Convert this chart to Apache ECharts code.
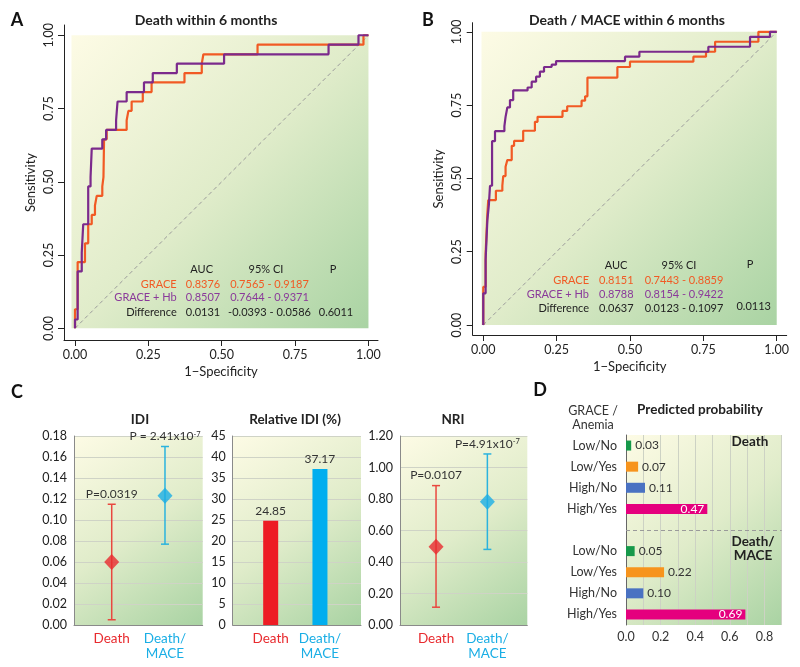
<!DOCTYPE html>
<html><head><meta charset="utf-8">
<script src="https://cdn.jsdelivr.net/npm/echarts@6/dist/echarts.min.js"></script>
<style>html,body{margin:0;padding:0;background:#fff}#c{width:800px;height:667px}</style>
</head><body><div id="c"></div>
<script>
const FONT = 'Lato, "Noto Sans", sans-serif';

// ---------- Panel A: ROC, death within 6 months ----------
const rocA_grace = [[0,0],[0,0.065],[0.009,0.226],[0.034,0.29],[0.045,0.355],[0.057,0.387],[0.068,0.419],[0.074,0.452],[0.093,0.484],[0.097,0.516],[0.099,0.645],[0.108,0.677],[0.176,0.71],[0.182,0.742],[0.193,0.774],[0.231,0.806],[0.261,0.839],[0.373,0.871],[0.432,0.903],[0.4375,0.935],[0.622,0.968],[0.983,1.0],[1,1]];
const rocA_graceHb = [[0,0],[0,0.03],[0.009,0.194],[0.023,0.258],[0.028,0.355],[0.045,0.484],[0.053,0.516],[0.057,0.613],[0.093,0.645],[0.106,0.677],[0.14,0.71],[0.145,0.774],[0.176,0.806],[0.235,0.839],[0.265,0.871],[0.347,0.903],[0.508,0.935],[0.864,0.968],[0.966,1.0],[1,1]];
// ---------- Panel B: ROC, death / MACE within 6 months ----------
const rocB_grace = [[0,0],[0,0.13],[0.008,0.244],[0.014,0.38],[0.017,0.426],[0.043,0.458],[0.065,0.475],[0.068,0.508],[0.076,0.54],[0.082,0.5625],[0.097,0.611],[0.105,0.628],[0.136,0.6625],[0.176,0.693],[0.185,0.71],[0.27,0.73],[0.286,0.746],[0.335,0.765],[0.347,0.78],[0.355,0.844],[0.457,0.88],[0.5,0.898],[0.716,0.915],[0.759,0.932],[0.79,0.966],[0.9375,1.0],[1,1]];
const rocB_graceHb = [[0,0],[0,0.108],[0.008,0.222],[0.014,0.358],[0.019,0.409],[0.023,0.475],[0.03,0.627],[0.04,0.661],[0.072,0.678],[0.076,0.71],[0.082,0.742],[0.091,0.767],[0.102,0.80],[0.151,0.81],[0.165,0.83],[0.18,0.847],[0.193,0.864],[0.207,0.88],[0.233,0.888],[0.248,0.90],[0.483,0.915],[0.532,0.932],[0.767,0.949],[0.909,0.983],[0.977,1.0],[1,1]];
const diagonal = [[0,0],[1,1]];
const rocTicks = [0, 0.25, 0.5, 0.75, 1];
const tableA = {
  header: ['AUC', '95% CI', 'P'],
  rows: ['GRACE', 'GRACE + Hb', 'Difference'],
  auc: ['0.8376', '0.8507', '0.0131'],
  ci: ['0.7565 - 0.9187', '0.7644 - 0.9371', '-0.0393 - 0.0586'],
  p: '0.6011'
};
const tableB = {
  header: ['AUC', '95% CI', 'P'],
  rows: ['GRACE', 'GRACE + Hb', 'Difference'],
  auc: ['0.8151', '0.8788', '0.0637'],
  ci: ['0.7443 - 0.8859', '0.8154 - 0.9422', '0.0123 - 0.1097'],
  p: '0.0113'
};

// ---------- Panel C ----------
const cCats = ['Death', 'Death/\nMACE'];
const idiEst = [0.060, 0.123];
const idiLow = [0.005, 0.077];
const idiHigh = [0.115, 0.170];
const idiP = ['P=0.0319', 'P = 2.41x10{sup|-7}'];
const relIdi = [24.85, 37.17];
const nriEst = [0.497, 0.783];
const nriLow = [0.113, 0.480];
const nriHigh = [0.885, 1.086];
const nriP = ['P=0.0107', 'P=4.91x10{sup|-7}'];

// ---------- Panel D ----------
const dGroups = ['Death', 'Death/MACE'];
const dLabels = ['Low/No', 'Low/Yes', 'High/No', 'High/Yes'];
const dDeath = [0.03, 0.07, 0.11, 0.47];
const dMace = [0.05, 0.22, 0.10, 0.69];
const dTicks = [0, 0.2, 0.4, 0.6, 0.8];

// ---------- colours ----------
const ORANGE = '#f15a24', PURPLE = '#7b2a8c';
const cColors = ['#e82a2e', '#1aaee5'];
const cLineColors = ['#e9483f', '#2bb3de'];
const barColors = ['#ed1c24', '#00aeef'];
const dColors = ['#16994a', '#f7941d', '#4a72c2', '#e5007e'];

function bgGrad() {
  return {type:'linear', x:0, y:0, x2:1, y2:1, colorStops:[
    {offset:0, color:'#fdfbe5'}, {offset:0.5, color:'#e0ecca'}, {offset:1, color:'#a9d3a3'}]};
}

const chart = echarts.init(document.getElementById('c'));

const grids = [
  {left:64, top:25, width:314, height:315},          // A
  {left:472.7, top:22.7, width:314, height:312.3},   // B
  {left:74, top:436, width:128.7, height:189, show:true, backgroundColor:bgGrad(), borderWidth:0},   // IDI
  {left:232.7, top:436, width:128.3, height:189, show:true, backgroundColor:bgGrad(), borderWidth:0}, // Rel IDI
  {left:400, top:436, width:127.3, height:189, show:true, backgroundColor:bgGrad(), borderWidth:0},   // NRI
  {left:626, top:435, width:155.7, height:190, show:true, backgroundColor:bgGrad(), borderWidth:0}    // D
];

const txt = {fontFamily: FONT, color:'#222'};

function rocX(gi, min, max) {
  return {gridIndex:gi, type:'value', min, max,
    axisLine:{onZero:false, lineStyle:{color:'#222', width:1}},
    axisTick:{customValues:rocTicks, length:6, lineStyle:{color:'#222'}},
    axisLabel:Object.assign({customValues:rocTicks, formatter:v=>Number(v).toFixed(2), fontSize:12.5, margin:8}, txt),
    splitLine:{show:false},
    name:'1\u2212Specificity', nameLocation:'middle', nameGap:25,
    nameTextStyle:Object.assign({fontSize:13}, txt)};
}
function rocY(gi, min, max) {
  return {gridIndex:gi, type:'value', min, max,
    axisLine:{onZero:false, lineStyle:{color:'#222', width:1}},
    axisTick:{customValues:rocTicks, length:6, lineStyle:{color:'#222'}},
    axisLabel:Object.assign({customValues:rocTicks, formatter:v=>Number(v).toFixed(2), fontSize:12.5, margin:9, rotate:90}, txt),
    splitLine:{show:false},
    name:'Sensitivity', nameLocation:'middle', nameGap:27,
    nameTextStyle:Object.assign({fontSize:13}, txt)};
}
function cX(gi, min, max) {
  return {gridIndex:gi, type:'value', min, max,
    axisLine:{onZero:false, lineStyle:{color:'#8a8a8a'}},
    axisTick:{show:false},
    axisLabel:{customValues:[0,1], formatter:v=>cCats[Math.round(Number(v))], fontFamily:FONT, fontSize:13.5, lineHeight:15, margin:6,
      color:(v)=>cColors[Math.round(Number(v))]},
    splitLine:{show:false}};
}
function cY(gi, max, interval, dec) {
  return {gridIndex:gi, type:'value', min:0, max, interval,
    axisLine:{show:true, onZero:false, lineStyle:{color:'#8a8a8a'}},
    axisTick:{show:false},
    axisLabel:Object.assign({formatter:v=>Number(v).toFixed(dec), fontSize:12.5, margin:7}, txt),
    splitLine:{show:true, lineStyle:{color:'#cfd3c6', width:1}}};
}

function bgSeries(xi, yi, rect) {
  return {type:'custom', xAxisIndex:xi, yAxisIndex:yi, z:0, silent:true, clip:false,
    data:[rect],
    renderItem:(p, api)=>{
      const a = api.coord([api.value(0), api.value(3)]);
      const b = api.coord([api.value(2), api.value(1)]);
      return {type:'rect', shape:{x:a[0], y:a[1], width:b[0]-a[0], height:b[1]-a[1]}, style:{fill:bgGrad()}};
    }};
}
function rocLine(xi, yi, data, color, z) {
  return {type:'line', xAxisIndex:xi, yAxisIndex:yi, data, step:'end', symbol:'none', z,
    lineStyle:{color, width:2.2}, silent:true};
}
function diagLine(xi, yi) {
  return {type:'line', xAxisIndex:xi, yAxisIndex:yi, data:diagonal, symbol:'none', z:1,
    lineStyle:{color:'#9a9a9a', width:1, type:[4,3]}, silent:true};
}
function errSeries(xi, yi, est, lo, hi, pLabels) {
  return {type:'custom', xAxisIndex:xi, yAxisIndex:yi, z:3, silent:true, clip:false,
    data: est.map((e,i)=>[i, lo[i], hi[i]]),
    renderItem:(p, api)=>{
      const i = api.value(0);
      const a = api.coord([i, api.value(1)]);
      const b = api.coord([i, api.value(2)]);
      const col = cLineColors[p.dataIndex];
      const ls = {stroke:col, lineWidth:1.5};
      return {type:'group', children:[
        {type:'line', shape:{x1:a[0], y1:a[1], x2:b[0], y2:b[1]}, style:ls},
        {type:'line', shape:{x1:a[0]-4, y1:a[1], x2:a[0]+4, y2:a[1]}, style:ls},
        {type:'line', shape:{x1:b[0]-4, y1:b[1], x2:b[0]+4, y2:b[1]}, style:ls},
        {type:'text', style:{text:pLabels[p.dataIndex], x:b[0], y:b[1]-4, align:'center', verticalAlign:'bottom',
          fontSize:12, fontFamily:FONT, fill:'#333',
          rich:{sup:{fontSize:7.5, verticalAlign:'top', fontFamily:FONT, fill:'#333'}}}}
      ]};
    }};
}
function diamondSeries(xi, yi, est) {
  return {type:'scatter', xAxisIndex:xi, yAxisIndex:yi, z:4, silent:true,
    data: est.map((e,i)=>[i, e]), symbol:'diamond', symbolSize:[15,16],
    itemStyle:{color:(p)=>cColors[p.dataIndex]}};
}

// Panel D categories
const dKeys = [];
dLabels.forEach(l=>dKeys.push(dGroups[0]+':'+l));
dKeys.push('sep');
dLabels.forEach(l=>dKeys.push(dGroups[1]+':'+l));
const dData = [];
dDeath.forEach((v,i)=>dData.push({value:v, itemStyle:{color:dColors[i]}}));
dData.push(null);
dMace.forEach((v,i)=>dData.push({value:v, itemStyle:{color:dColors[i]}}));
const dDataLabeled = dData.map(d=>{
  if (!d) return d;
  if (d.value > 0.3) return Object.assign({}, d, {label:{position:'insideRight', color:'#fff', distance:3}});
  return d;
});

const option = {
  animation:false,
  grid: grids,
  xAxis: [
    rocX(0, -0.0375, 1.0325),
    rocX(1, -0.036, 1.034),
    cX(2, -0.708, 1.708),
    cX(3, -0.771, 1.833),
    cX(4, -0.702, 1.778),
    {gridIndex:5, type:'value', min:0, max:0.9, interval:0.1,
      axisLine:{show:false}, axisTick:{show:false},
      axisLabel:{customValues:dTicks, formatter:v=>Number(v).toFixed(1), fontSize:12.5, margin:5, color:'#333', fontFamily:FONT},
      splitLine:{show:true, lineStyle:{color:'#cdd2c4', width:1}}}
  ],
  yAxis: [
    rocY(0, -0.04, 1.035),
    rocY(1, -0.034, 1.031),
    cY(2, 0.18, 0.02, 2),
    cY(3, 45, 5, 0),
    cY(4, 1.2, 0.2, 2),
    {gridIndex:5, type:'category', inverse:true, data:dKeys,
      axisLine:{show:true, onZero:false, lineStyle:{color:'#666'}}, axisTick:{show:false},
      axisLabel:{formatter:v=>v==='sep'?'':v.split(':')[1], fontFamily:FONT, fontSize:12.5, color:'#333', margin:9, interval:0},
      splitLine:{show:false}}
  ],
  series: [
    bgSeries(0, 0, [-0.012, 0, 1, 1]),
    diagLine(0, 0),
    rocLine(0, 0, rocA_grace, ORANGE, 2),
    rocLine(0, 0, rocA_graceHb, PURPLE, 3),
    bgSeries(1, 1, [-0.006, 0, 1, 1]),
    diagLine(1, 1),
    rocLine(1, 1, rocB_grace, ORANGE, 2),
    rocLine(1, 1, rocB_graceHb, PURPLE, 3),
    errSeries(2, 2, idiEst, idiLow, idiHigh, idiP),
    diamondSeries(2, 2, idiEst),
    {type:'custom', xAxisIndex:3, yAxisIndex:3, z:3, silent:true,
      data: relIdi.map((v,i)=>[i, v]),
      renderItem:(p, api)=>{
        const top = api.coord([api.value(0), api.value(1)]);
        const base = api.coord([api.value(0), 0]);
        const w = 15;
        return {type:'group', children:[
          {type:'rect', shape:{x:top[0]-w/2, y:top[1], width:w, height:base[1]-top[1]}, style:{fill:barColors[p.dataIndex]}},
          {type:'text', style:{text:api.value(1).toFixed(2), x:top[0], y:top[1]-4, align:'center', verticalAlign:'bottom',
            fontSize:12, fontFamily:FONT, fill:'#333'}}
        ]};
      }},
    errSeries(4, 4, nriEst, nriLow, nriHigh, nriP),
    diamondSeries(4, 4, nriEst),
    {type:'bar', xAxisIndex:5, yAxisIndex:5, data:dDataLabeled, barWidth:10, z:3, silent:true,
      label:{show:true, fontFamily:FONT, fontSize:12,
        formatter:p=>Number(p.value).toFixed(2),
        position:'right', distance:4, color:'#333'},
      markLine:{silent:true, symbol:'none', label:{show:false},
        lineStyle:{color:'#9a9a9a', type:[4,3], width:1},
        data:[{yAxis:'sep'}]}}
  ],
  graphic: []
};

const G = option.graphic;
function T(x, y, text, o) {
  o = o || {};
  G.push({type:'text', x, y, silent:true, z:10, style:{text, fontFamily:FONT,
    fontSize:o.size||12, fontWeight:o.bold?'bold':'normal', fill:o.color||'#222',
    align:o.align||'center', verticalAlign:'middle', lineHeight:o.lh}});
}
// panel letters
T(17, 20, 'A', {size:18, bold:true, color:'#111'});
T(428, 20, 'B', {size:18, bold:true, color:'#111'});
T(17, 392, 'C', {size:18, bold:true, color:'#111'});
T(540, 390, 'D', {size:18, bold:true, color:'#111'});
// titles
T(206, 20.5, 'Death within 6 months', {size:14, bold:true});
T(627, 20, 'Death / MACE within 6 months', {size:14, bold:true});
T(140, 420, 'IDI', {size:13.5, bold:true});
T(295, 420, 'Relative IDI (%)', {size:13.5, bold:true});
T(453, 420, 'NRI', {size:13.5, bold:true});
T(700, 410, 'Predicted probability', {size:13.5, bold:true});
T(593, 418, 'GRACE /\nAnemia', {size:12.5, color:'#333', lh:14});
T(750, 442, 'Death', {size:13.5, bold:true, color:'#222'});
T(753, 548.5, 'Death/\nMACE', {size:13.5, bold:true, color:'#222', lh:14});

// ROC tables
const rowColors = [ORANGE, '#8a3a9a', '#222'];
function table(tb, hx, hy, lx, ax, cx, rowY, py) {
  T(hx[0], hy, tb.header[0], {size:11});
  T(hx[1], hy, tb.header[1], {size:11});
  T(hx[2], hy - (py||0), tb.header[2], {size:11});
  tb.rows.forEach((r,i)=>{
    T(lx, rowY[i], r, {size:11, align:'right', color:rowColors[i]});
    T(ax, rowY[i], tb.auc[i], {size:11, color:rowColors[i]});
    T(cx, rowY[i], tb.ci[i], {size:11, color:rowColors[i]});
  });
}
table(tableA, [201.7, 266, 333], 269, 176.7, 203, 269.5, [284, 297.7, 312.7]);
T(336, 312.7, tableA.p, {size:11});
table(tableB, [616, 679, 750], 265.7, 589, 616.3, 684, [280, 294.3, 308.7], 1.5);
T(753.7, 306.7, tableB.p, {size:11});

chart.setOption(option);
</script></body></html>
